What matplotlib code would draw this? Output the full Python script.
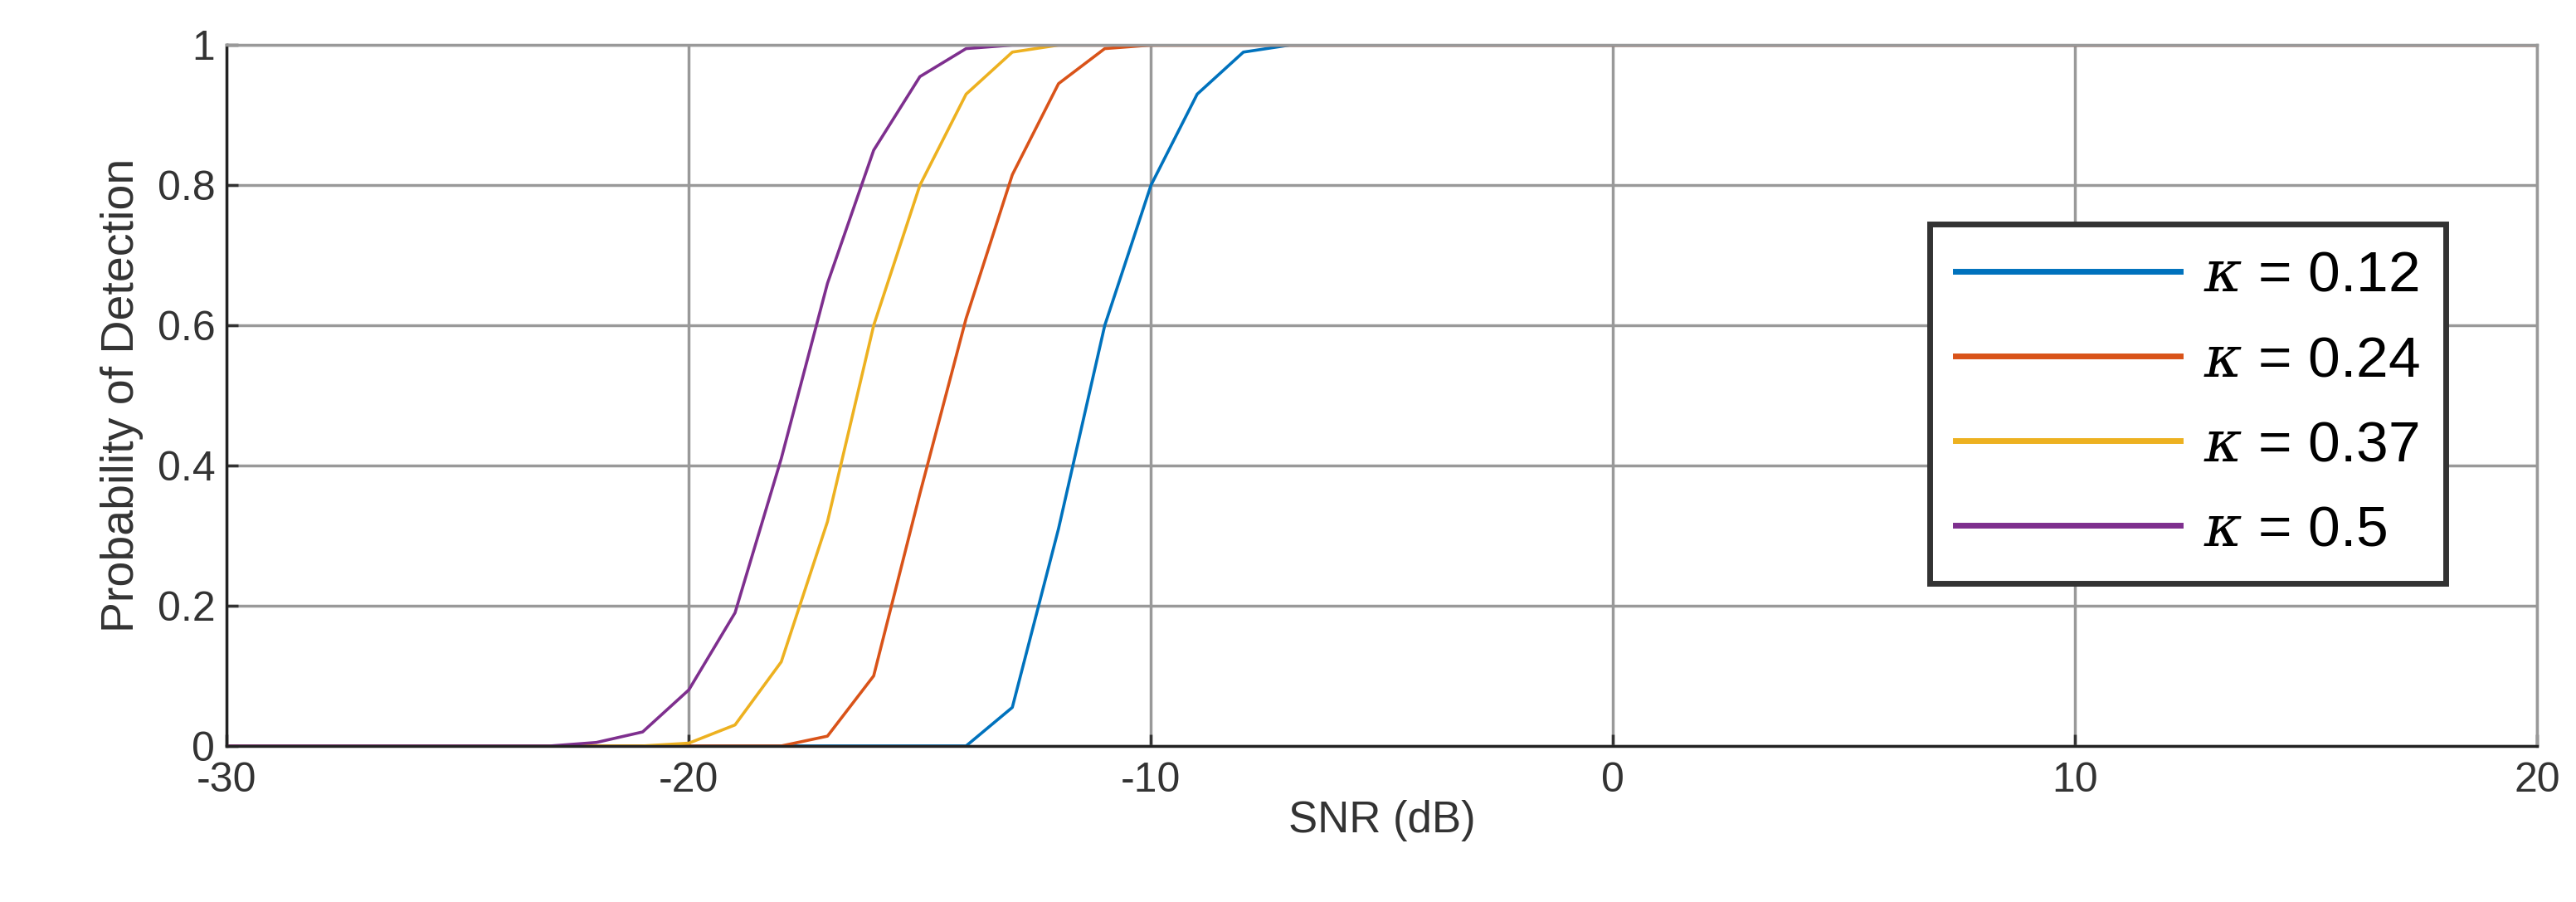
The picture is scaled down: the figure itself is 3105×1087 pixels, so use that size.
import numpy as np
import matplotlib.pyplot as plt

plt.rcParams['font.family'] = ['Liberation Sans', 'DejaVu Sans']
plt.rcParams['mathtext.fontset'] = 'dejavuserif'
plt.rcParams['axes.unicode_minus'] = False

snr = np.arange(-30, 21, 1)

# P_d at integer SNR points where the curves change; 0 below, 1 above
kappa = ["0.12", "0.24", "0.37", "0.5"]
start_snr = [-14, -17, -20, -22]
pd_vals = [
    [0.0, 0.055, 0.31, 0.6, 0.8, 0.93, 0.99],
    [0.014, 0.1, 0.36, 0.61, 0.815, 0.945, 0.995],
    [0.004, 0.03, 0.12, 0.32, 0.6, 0.8, 0.93, 0.99],
    [0.005, 0.02, 0.08, 0.19, 0.41, 0.66, 0.85, 0.955, 0.995],
]
colors = ["#0072BD", "#D95319", "#EDB120", "#7E2F8E"]

fig = plt.figure(figsize=(31.05, 10.87), dpi=100)
ax = fig.add_axes([0.088, 0.173, 0.897, 0.777])

for k, s0, vals, c in zip(kappa, start_snr, pd_vals, colors):
    pd = np.zeros_like(snr, dtype=float)
    pd[snr >= s0 + len(vals)] = 1.0
    for i, v in enumerate(vals):
        pd[snr == s0 + i] = v
    ax.plot(snr, pd, color=c, lw=2.6, label=r"$\kappa$ = " + k)

ax.set_xlim(-30, 20)
ax.set_ylim(0, 1)
ax.set_xticks([-30, -20, -10, 0, 10, 20])
ax.set_yticks([0, 0.2, 0.4, 0.6, 0.8, 1])
ax.set_yticklabels(["0", "0.2", "0.4", "0.6", "0.8", "1"])
ax.grid(True, color="#999999", lw=2.5)
ax.tick_params(labelsize=36, colors="#333333", length=10, width=2.5, direction="in")
ax.tick_params(axis="x", pad=14)
ax.tick_params(axis="y", pad=10)
for sp in ax.spines.values():
    sp.set_color("#999999")
    sp.set_linewidth(2.5)
ax.spines["bottom"].set_color("#222222")
ax.spines["left"].set_color("#222222")
ax.set_xlabel("SNR (dB)", fontsize=38, color="#333333", labelpad=0)
ax.set_ylabel("Probability of Detection", fontsize=40, color="#333333", labelpad=12)

leg = ax.legend(loc="upper left", bbox_to_anchor=(0.737, 0.745), fontsize=50,
                frameon=True, fancybox=False, framealpha=1, handlelength=3.9,
                handletextpad=0.4, borderpad=0.45, labelspacing=0.55,
                borderaxespad=0)
leg.get_frame().set_edgecolor("#333333")
leg.get_frame().set_linewidth(5)
for line in leg.get_lines():
    line.set_linewidth(5)

plt.savefig("out.png", dpi=100)
